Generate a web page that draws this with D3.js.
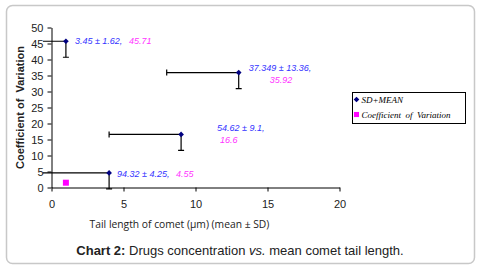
<!doctype html>
<html lang="en">
<head>
<meta charset="utf-8">
<title>Chart 2 - D3</title>
<style>
  body { margin: 0; background: #fff; }
  svg { display: block; font-family: Arial, "Liberation Sans", sans-serif; }
</style>
</head>
<body>
<svg id="chart" width="481" height="270"></svg>
<script src="https://cdn.jsdelivr.net/npm/d3@7/dist/d3.min.js"></script>
<script>
// data
var tailLength = [1, 13, 9, 4];
var coefVar = [45.71, 35.92, 16.6, 4.55];
var errX = [5, 5, 5, 5];
var errY = [5, 5, 5, 5];
var meanLabels = ['3.45 ± 1.62,', '37.349 ± 13.36,', '54.62 ± 9.1,', '94.32 ± 4.25,'];
var cvLabels = ['45.71', '35.92', '16.6', '4.55'];
var cvPoint = [[1, 1.5]];
var xTicks = [0, 5, 10, 15, 20];
var yTicks = [0, 5, 10, 15, 20, 25, 30, 35, 40, 45, 50];
var legendNames = ['SD+MEAN', 'Coefficient  of  Variation'];

// label placement (pixels from the point): [dx, dy] first line, [dx, dy] second part
var labelPos = [
  [[9, 3], [63, 3]],
  [[10, -2], [31, 10]],
  [[36, -3], [39, 9]],
  [[8, 4], [67, 4]]
];

var svg = d3.select('#chart');

// outer frame
svg.append('rect')
  .attr('x', 6.5).attr('y', 5.5).attr('width', 468).attr('height', 258)
  .attr('rx', 6).attr('fill', '#fff').attr('stroke', '#c8c8c8').attr('stroke-width', 1.5);

var x = d3.scaleLinear().domain([0, 20]).range([51.5, 339.5]);
var y = d3.scaleLinear().domain([0, 50]).range([187.5, 27.5]);

// axes
var yAxis = svg.append('g').attr('transform', 'translate(51.5,0)')
  .call(d3.axisLeft(y).tickValues(yTicks).tickSize(4).tickPadding(4).tickSizeOuter(0));
var xAxis = svg.append('g').attr('transform', 'translate(0,187.5)')
  .call(d3.axisBottom(x).tickValues(xTicks).tickSize(4).tickPadding(9).tickSizeOuter(0));
[xAxis, yAxis].forEach(function (a) {
  a.select('.domain').attr('stroke', '#000');
  a.selectAll('.tick line').attr('stroke', '#000');
  a.selectAll('.tick text').attr('font-size', 11).attr('fill', '#222')
    .attr('font-family', 'Arial, "Liberation Sans", sans-serif');
});

// error bars (minus direction), clipped to plot area
svg.append('clipPath').attr('id', 'plotClip')
  .append('rect').attr('x', x(-0.6)).attr('y', 10).attr('width', 300).attr('height', 182);
var eb = svg.append('g').attr('clip-path', 'url(#plotClip)')
  .attr('stroke', '#000').attr('stroke-width', 1.2);
tailLength.forEach(function (v, i) {
  var px = x(v), py = y(coefVar[i]);
  var x0 = x(v - errX[i]), y0 = y(coefVar[i] - errY[i]);
  eb.append('line').attr('x1', x0).attr('x2', px).attr('y1', py).attr('y2', py);
  eb.append('line').attr('x1', x0).attr('x2', x0).attr('y1', py - 3).attr('y2', py + 3);
  eb.append('line').attr('x1', px).attr('x2', px).attr('y1', py).attr('y2', y0);
  eb.append('line').attr('x1', px - 3).attr('x2', px + 3).attr('y1', y0).attr('y2', y0);
});

// markers (square turned 45 degrees)
var diamond = d3.symbol().type(d3.symbolSquare).size(16);
svg.append('g').selectAll('path').data(tailLength).enter()
  .append('path')
  .attr('d', diamond)
  .attr('transform', function (v, i) { return 'translate(' + x(v) + ',' + y(coefVar[i]) + ') rotate(45)'; })
  .attr('fill', '#000080');

svg.append('g').selectAll('rect').data(cvPoint).enter()
  .append('rect')
  .attr('x', function (d) { return x(d[0]) - 3; })
  .attr('y', function (d) { return y(d[1]) - 3; })
  .attr('width', 6).attr('height', 6)
  .attr('fill', '#ff00ff');

// point labels
var lab = svg.append('g').attr('font-size', 9).attr('font-style', 'italic');
tailLength.forEach(function (v, i) {
  var px = x(v), py = y(coefVar[i]);
  lab.append('text').text(meanLabels[i])
    .attr('x', px + labelPos[i][0][0]).attr('y', py + labelPos[i][0][1]).attr('fill', '#3333ff');
  lab.append('text').text(cvLabels[i])
    .attr('x', px + labelPos[i][1][0]).attr('y', py + labelPos[i][1][1]).attr('fill', '#ff33ff');
});

// axis titles
svg.append('text')
  .attr('transform', 'translate(24,107.5) rotate(-90)')
  .attr('text-anchor', 'middle').attr('font-size', 11).attr('font-weight', 'bold')
  .attr('fill', '#222').style('white-space', 'pre')
  .text('Coefficient of  Variation');

svg.append('text')
  .attr('x', 179.5).attr('y', 227.5).attr('text-anchor', 'middle')
  .attr('font-size', 10.3).attr('fill', '#222')
  .attr('font-family', '"Open Sans", "DejaVu Sans", sans-serif')
  .text('Tail length of comet (µm) (mean ± SD)');

// legend
var legend = svg.append('g').attr('transform', 'translate(352.5,92.5)');
legend.append('rect').attr('width', 113).attr('height', 31)
  .attr('fill', '#fff').attr('stroke', '#000').attr('stroke-width', 1);
var items = legend.selectAll('g').data(legendNames).enter().append('g')
  .attr('transform', function (d, i) { return 'translate(0,' + (7 + i * 15) + ')'; });
items.append('path')
  .attr('d', function (d, i) { return i === 0 ? diamond() : d3.symbol().type(d3.symbolSquare).size(26)(); })
  .attr('transform', function (d, i) { return i === 0 ? 'translate(4,0) rotate(45)' : 'translate(4,0)'; })
  .attr('fill', function (d, i) { return i === 0 ? '#000080' : '#ff00ff'; });
items.append('text').text(function (d) { return d; })
  .attr('x', 9).attr('y', 3)
  .attr('font-family', '"Liberation Serif", "Times New Roman", serif')
  .attr('font-style', 'italic').attr('font-size', 9).style('white-space', 'pre');

// caption
var cap = svg.append('text').attr('x', 240).attr('y', 255).attr('text-anchor', 'middle')
  .attr('font-size', 13).attr('fill', '#222');
cap.append('tspan').attr('font-weight', 'bold').text('Chart 2:');
cap.append('tspan').text(' Drugs concentration ');
cap.append('tspan').attr('font-style', 'italic').text('vs.');
cap.append('tspan').text(' mean comet tail length.');
</script>
</body>
</html>
